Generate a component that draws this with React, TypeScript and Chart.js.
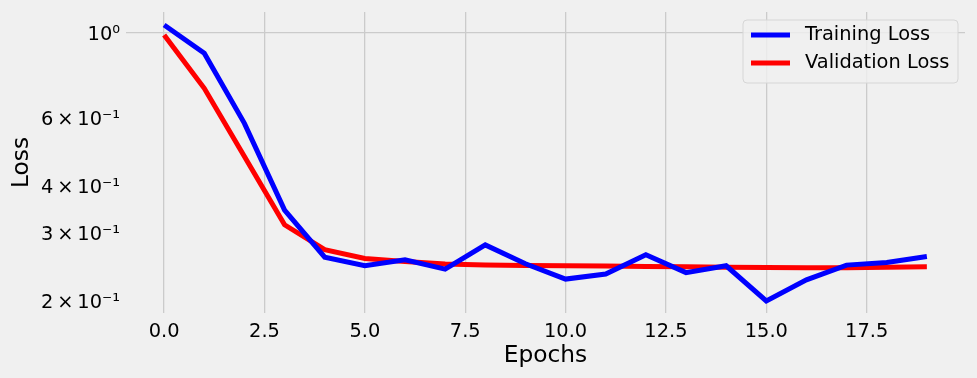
import React, { useEffect, useRef } from "react";
import { Chart, registerables } from "chart.js";

Chart.register(...registerables);

const epochs = [0, 1, 2, 3, 4, 5, 6, 7, 8, 9, 10, 11, 12, 13, 14, 15, 16, 17, 18, 19];
const trainingLoss = [1.049, 0.885, 0.581, 0.345, 0.26, 0.247, 0.256, 0.242, 0.28, 0.25, 0.228, 0.235, 0.264, 0.237, 0.247, 0.2, 0.227, 0.248, 0.252, 0.261];
const validationLoss = [0.988, 0.717, 0.476, 0.316, 0.272, 0.258, 0.2535, 0.2497, 0.248, 0.2475, 0.247, 0.2465, 0.246, 0.2455, 0.245, 0.2445, 0.2442, 0.2442, 0.2448, 0.2455];
const xTicks = [0, 2.5, 5, 7.5, 10, 12.5, 15, 17.5];
const yTicks = [0.2, 0.3, 0.4, 0.6, 1];
const yTickLabels = ["2\u2009\u00d7\u200910\u207b\u00b9", "3\u2009\u00d7\u200910\u207b\u00b9", "4\u2009\u00d7\u200910\u207b\u00b9", "6\u2009\u00d7\u200910\u207b\u00b9", "10\u2070"];
const seriesNames = ["Training Loss", "Validation Loss"];
const seriesColors = ["#0000ff", "#ff0000"];

const FONT = "'DejaVu Sans', sans-serif";

const legendPlugin = {
  id: "insideLegend",
  afterDraw(chart: any) {
    const ctx = chart.ctx;
    ctx.save();
    const x = 743, y = 20, w = 215, h = 63, r = 4;
    ctx.beginPath();
    ctx.moveTo(x + r, y);
    ctx.arcTo(x + w, y, x + w, y + h, r);
    ctx.arcTo(x + w, y + h, x, y + h, r);
    ctx.arcTo(x, y + h, x, y, r);
    ctx.arcTo(x, y, x + w, y, r);
    ctx.closePath();
    ctx.fillStyle = "rgba(240,240,240,0.8)";
    ctx.fill();
    ctx.strokeStyle = "#d6d6d6";
    ctx.lineWidth = 1;
    ctx.stroke();
    ctx.font = `19.4px ${FONT}`;
    ctx.textBaseline = "middle";
    ctx.fillStyle = "#000";
    seriesNames.forEach((name, i) => {
      const cy = 35 + i * 28;
      ctx.strokeStyle = seriesColors[i];
      ctx.lineWidth = 5;
      ctx.beginPath();
      ctx.moveTo(751, cy);
      ctx.lineTo(790, cy);
      ctx.stroke();
      ctx.fillText(name, 805, cy);
    });
    ctx.restore();
  },
};

export default function App() {
  const ref = useRef<HTMLCanvasElement | null>(null);
  useEffect(() => {
    document.body.style.margin = "0";
    document.body.style.background = "#f0f0f0";
    const canvas = ref.current!;
    const bgPlugin = {
      id: "bg",
      beforeDraw(chart: any) {
        const c = chart.ctx;
        c.save();
        c.fillStyle = "#f0f0f0";
        c.fillRect(0, 0, chart.width, chart.height);
        c.restore();
      },
    };
    const chart = new Chart(canvas, {
      type: "line",
      data: {
        datasets: [
          {
            label: seriesNames[0],
            data: epochs.map((e, i) => ({ x: e, y: trainingLoss[i] })),
            borderColor: seriesColors[0],
            backgroundColor: seriesColors[0],
            borderWidth: 5,
            pointRadius: 0,
            tension: 0,
          },
          {
            label: seriesNames[1],
            data: epochs.map((e, i) => ({ x: e, y: validationLoss[i] })),
            borderColor: seriesColors[1],
            backgroundColor: seriesColors[1],
            borderWidth: 5,
            pointRadius: 0,
            tension: 0,
          },
        ],
      },
      options: {
        responsive: false,
        animation: false,
        devicePixelRatio: 1,
        layout: { padding: { top: 12, right: 12, left: 0, bottom: 0 } },
        plugins: { legend: { display: false }, tooltip: { enabled: false } },
        scales: {
          x: {
            type: "linear",
            min: -0.95,
            max: 19.95,
            afterBuildTicks: (s: any) => {
              s.ticks = xTicks.map((v) => ({ value: v }));
            },
            afterFit: (s: any) => {
              s.height = 65;
              s.paddingLeft = 0;
              s.paddingRight = 0;
            },
            ticks: {
              autoSkip: false,
              maxRotation: 0,
              padding: 7,
              color: "#000",
              font: { family: FONT, size: 19.4 },
              callback: (v: any) => Number(v).toFixed(1),
            },
            grid: { color: "#cbcbcb", lineWidth: 1.3, drawTicks: false },
            border: { display: false },
            title: {
              display: true,
              text: "Epochs",
              color: "#000",
              font: { family: FONT, size: 23.3 },
              padding: { top: 0, bottom: 8 },
            },
          },
          y: {
            type: "logarithmic",
            min: 0.186,
            max: 1.134,
            afterBuildTicks: (s: any) => {
              s.ticks = yTicks.map((v) => ({ value: v }));
            },
            afterFit: (s: any) => {
              s.width = 126;
              s.paddingTop = 0;
              s.paddingBottom = 0;
            },
            ticks: {
              autoSkip: false,
              padding: 6,
              labelOffset: 2,
              color: "#000",
              font: { family: FONT, size: 19.4 },
              callback: (v: any) => {
                const i = yTicks.indexOf(Number(v));
                return i >= 0 ? yTickLabels[i] : "";
              },
            },
            grid: {
              color: (c: any) => (c.tick && c.tick.value === 1 ? "#cbcbcb" : "rgba(0,0,0,0)"),
              lineWidth: 1.3,
              drawTicks: false,
            },
            border: { display: false },
            title: {
              display: true,
              text: "Loss",
              color: "#000",
              font: { family: FONT, size: 23.3 },
              padding: { top: 8, bottom: 0 },
            },
          },
        },
      },
      plugins: [bgPlugin, legendPlugin],
    });
    return () => chart.destroy();
  }, []);
  return <canvas ref={ref} width={977} height={378} style={{ display: "block" }} />;
}
